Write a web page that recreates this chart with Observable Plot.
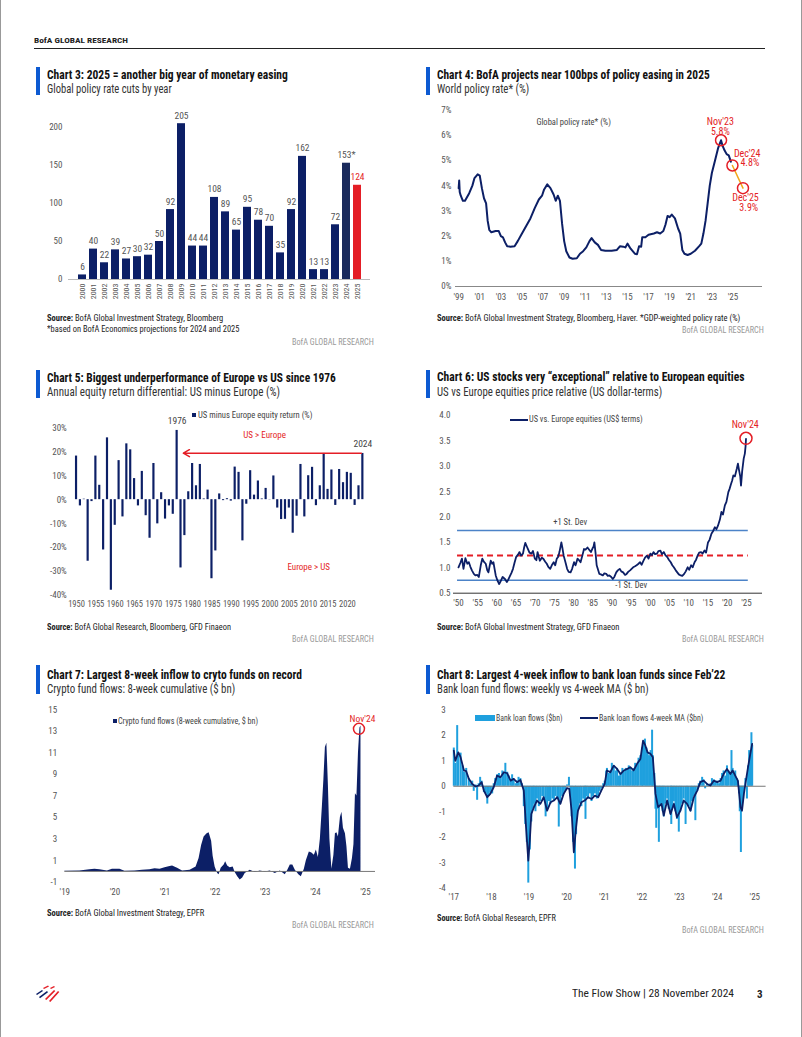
<!DOCTYPE html>
<html><head><meta charset="utf-8">
<script src="https://cdn.jsdelivr.net/npm/d3@7"></script>
<script src="https://cdn.jsdelivr.net/npm/@observablehq/plot@0.6"></script>
<style>
html,body{margin:0;padding:0;background:#fff;}
#page{position:relative;width:802px;height:1037px;overflow:hidden;background:#fff;font-family:'Liberation Sans Narrow','Roboto Condensed','Arial Narrow','DejaVu Sans Condensed',Roboto,sans-serif;}
.t{position:absolute;white-space:nowrap;line-height:1;}
.box{position:absolute;}
.chart{position:absolute;}
</style></head><body><div id="page"></div>
<script>
// ---------------- DATA ----------------
// Chart 3
const c3Years = ["2000","2001","2002","2003","2004","2005","2006","2007","2008","2009","2010","2011","2012","2013","2014","2015","2016","2017","2018","2019","2020","2021","2022","2023","2024","2025"];
const c3Cuts = [6,40,22,39,27,30,32,50,92,205,44,44,108,89,65,95,78,70,35,92,162,13,13,72,153,124];
const c3Labels = ["6","40","22","39","27","30","32","50","92","205","44","44","108","89","65","95","78","70","35","92","162","13","13","72","153*","124"];
// Chart 4
const c4Rate = [[1999.0,3.9],[1999.05,4.2],[1999.1,3.75],[1999.2,3.6],[1999.4,3.4],[1999.6,3.4],[1999.8,3.55],[2000.0,3.7],[2000.3,4.0],[2000.5,4.3],[2000.8,4.45],[2001.0,4.4],[2001.2,3.9],[2001.4,3.5],[2001.6,3.3],[2001.75,2.6],[2001.9,2.25],[2002.1,2.15],[2002.5,2.2],[2002.8,2.2],[2003.0,2.0],[2003.2,1.95],[2003.4,1.75],[2003.6,1.6],[2003.9,1.58],[2004.3,1.6],[2004.6,1.8],[2005.0,2.1],[2005.4,2.4],[2005.8,2.7],[2006.2,3.1],[2006.6,3.45],[2006.9,3.6],[2007.1,3.85],[2007.4,4.05],[2007.7,3.9],[2008.0,3.65],[2008.2,3.4],[2008.4,3.6],[2008.6,3.4],[2008.8,2.5],[2009.0,1.8],[2009.2,1.4],[2009.5,1.15],[2009.8,1.1],[2010.2,1.12],[2010.5,1.3],[2010.8,1.4],[2011.1,1.55],[2011.4,1.8],[2011.6,1.92],[2011.9,1.75],[2012.2,1.65],[2012.5,1.45],[2012.9,1.42],[2013.5,1.42],[2014.0,1.45],[2014.3,1.6],[2014.6,1.58],[2014.8,1.55],[2015.0,1.7],[2015.3,1.5],[2015.7,1.3],[2015.9,1.28],[2016.1,1.6],[2016.3,1.58],[2016.4,1.95],[2016.7,1.95],[2017.0,2.05],[2017.5,2.1],[2017.8,2.15],[2018.1,2.1],[2018.4,2.2],[2018.6,2.45],[2018.8,2.8],[2019.0,2.75],[2019.2,2.85],[2019.5,2.7],[2019.8,2.3],[2020.0,2.1],[2020.2,1.45],[2020.4,1.3],[2020.7,1.25],[2021.0,1.3],[2021.4,1.42],[2021.8,1.6],[2022.0,1.7],[2022.2,2.1],[2022.4,2.6],[2022.6,3.3],[2022.8,4.0],[2023.0,4.5],[2023.3,5.0],[2023.6,5.5],[2023.87,5.8],[2024.0,5.6],[2024.2,5.4],[2024.4,5.25],[2024.6,5.2],[2024.8,4.95]];
const c4Proj = [[2024.95,4.8],[2025.95,3.9]];
const c4Marks = [[2023.87,5.8],[2024.95,4.8],[2025.95,3.9]];
// Chart 5
const c5Years = d3.range(1950, 2025);
const c5Diff = [18.2,-2.6,0.2,-25.7,-0.8,18.2,6.0,-21.0,25.8,-37.8,-10.7,16.3,-7.2,23.3,20.8,8.8,-2.6,11.8,-6.7,-16.1,15.1,-10.1,2.9,-8.1,-2.6,-6.1,28.9,-28.5,-15.0,3.3,15.1,5.8,14.7,0.3,4.0,-33.0,-21.4,2.4,-0.4,0.4,-0.6,13.6,11.4,-17.2,-1.9,12.1,1.9,7.8,0.3,4.7,-0.1,9.9,-3.5,-8.3,-8.2,-3.5,-14.0,-6.9,14.7,-7.2,10.0,13.5,-2.5,5.8,19.3,4.3,12.4,-2.4,12.6,7.1,11.4,11.0,-2.4,5.8,19.3];
// Chart 6
const c6Rel = [[1950.0,1.01],[1950.5,1.10],[1950.9,1.18],[1951.3,0.98],[1951.8,1.19],[1952.3,1.08],[1952.7,1.11],[1953.1,1.02],[1953.5,0.95],[1954.0,0.88],[1954.4,0.85],[1954.9,0.86],[1955.3,0.82],[1955.8,1.05],[1956.2,1.18],[1956.6,1.12],[1957.1,1.08],[1957.5,0.95],[1957.8,0.91],[1958.1,1.03],[1958.4,1.14],[1958.8,1.08],[1959.1,1.11],[1959.4,0.98],[1959.7,0.85],[1960.1,0.76],[1960.6,0.68],[1961.0,0.74],[1961.5,0.82],[1962.1,0.78],[1962.6,0.72],[1963.0,0.77],[1963.3,0.82],[1963.8,0.90],[1964.2,0.98],[1964.6,1.10],[1965.0,1.21],[1965.5,1.26],[1965.9,1.31],[1966.3,1.24],[1966.8,1.28],[1967.1,1.40],[1967.4,1.49],[1967.8,1.42],[1968.1,1.37],[1968.5,1.30],[1969.0,1.28],[1969.4,1.33],[1969.9,1.18],[1970.3,1.15],[1970.6,1.31],[1970.9,1.22],[1971.2,1.14],[1971.7,1.20],[1972.1,1.18],[1972.6,1.12],[1973.0,1.08],[1973.4,1.02],[1973.9,0.98],[1974.3,1.05],[1974.8,1.11],[1975.2,1.05],[1975.6,1.18],[1976.0,1.22],[1976.3,1.31],[1976.8,1.50],[1977.1,1.38],[1977.4,1.24],[1977.9,1.10],[1978.3,0.98],[1978.7,0.92],[1979.2,0.91],[1979.6,0.98],[1980.1,1.11],[1980.5,1.05],[1981.0,1.18],[1981.4,1.15],[1981.8,1.11],[1982.3,1.25],[1982.7,1.37],[1983.1,1.36],[1983.6,1.40],[1984.0,1.36],[1984.5,1.31],[1984.9,1.38],[1985.2,1.42],[1985.4,1.50],[1985.7,1.30],[1986.0,1.05],[1986.4,0.95],[1986.7,0.88],[1987.1,0.87],[1987.6,0.85],[1988.0,0.89],[1988.5,0.88],[1988.9,0.84],[1989.3,0.85],[1989.8,0.82],[1990.2,0.78],[1990.6,0.82],[1991.1,0.91],[1991.5,0.95],[1992.0,0.98],[1992.4,0.93],[1992.9,0.91],[1993.4,0.86],[1993.8,0.88],[1994.2,0.92],[1994.7,0.95],[1995.1,0.98],[1995.5,1.01],[1996.0,1.03],[1996.4,1.05],[1996.9,1.08],[1997.3,1.11],[1997.7,1.06],[1998.2,1.14],[1998.6,1.20],[1999.1,1.24],[1999.5,1.18],[2000.0,1.28],[2000.4,1.25],[2000.8,1.31],[2001.2,1.27],[2001.7,1.28],[2002.1,1.33],[2002.6,1.34],[2003.0,1.27],[2003.5,1.31],[2003.9,1.25],[2004.4,1.21],[2004.8,1.16],[2005.3,1.11],[2005.7,1.05],[2006.1,1.01],[2006.6,0.95],[2007.0,0.91],[2007.4,0.87],[2007.9,0.85],[2008.3,0.84],[2008.8,0.88],[2009.2,0.93],[2009.7,1.01],[2010.1,0.96],[2010.6,1.05],[2011.0,1.01],[2011.5,1.11],[2011.9,1.16],[2012.3,1.24],[2012.7,1.30],[2013.2,1.31],[2013.6,1.28],[2014.1,1.34],[2014.5,1.30],[2015.0,1.50],[2015.4,1.55],[2015.9,1.67],[2016.3,1.72],[2016.8,1.80],[2017.2,1.76],[2017.6,1.83],[2018.1,1.95],[2018.5,2.10],[2018.9,2.05],[2019.4,2.23],[2019.8,2.30],[2020.3,2.49],[2020.6,2.55],[2021.0,2.65],[2021.3,2.72],[2021.6,2.82],[2022.0,2.80],[2022.5,2.95],[2022.8,3.05],[2023.1,2.92],[2023.4,2.80],[2023.6,2.62],[2023.9,2.90],[2024.3,3.15],[2024.6,3.25],[2024.8,3.40],[2024.9,3.54]];
const c6Bands = [["+1 St. Dev",1.735],["mean",1.243],["-1 St. Dev",0.756]];
// Chart 7
const c7Flows = [[2019.0,0.02],[2019.3,0.05],[2019.5,0.15],[2019.6,0.2],[2019.7,0.15],[2019.85,0.05],[2019.95,0.2],[2020.1,0.2],[2020.2,0.02],[2020.4,0.05],[2020.55,0.12],[2020.7,0.15],[2020.8,0.25],[2020.9,0.2],[2021.0,0.35],[2021.1,0.45],[2021.15,0.5],[2021.25,0.3],[2021.35,0.05],[2021.5,0.1],[2021.62,0.4],[2021.68,1.2],[2021.73,2.4],[2021.78,3.2],[2021.84,3.5],[2021.88,3.6],[2021.93,2.8],[2021.96,1.4],[2022.0,0.4],[2022.05,-0.2],[2022.08,-0.3],[2022.12,0.3],[2022.18,0.6],[2022.21,0.9],[2022.25,0.5],[2022.3,0.35],[2022.36,0.4],[2022.4,-0.1],[2022.45,-0.5],[2022.5,-0.8],[2022.55,-0.6],[2022.6,-0.2],[2022.7,0.1],[2022.8,-0.1],[2022.9,0.05],[2023.0,-0.05],[2023.1,0.05],[2023.2,-0.2],[2023.3,0.05],[2023.4,-0.3],[2023.45,0.1],[2023.5,0.6],[2023.55,0.6],[2023.6,0.1],[2023.67,-0.3],[2023.72,-0.5],[2023.78,0.2],[2023.82,1.0],[2023.88,1.8],[2023.93,1.7],[2023.98,1.5],[2024.02,2.0],[2024.06,1.3],[2024.1,3.0],[2024.14,6.0],[2024.17,8.5],[2024.2,11.5],[2024.23,11.9],[2024.26,8.0],[2024.29,3.0],[2024.33,0.2],[2024.37,1.5],[2024.4,3.5],[2024.43,3.6],[2024.46,3.2],[2024.5,5.0],[2024.53,5.5],[2024.56,4.0],[2024.6,3.5],[2024.63,2.3],[2024.66,0.3],[2024.7,0.2],[2024.74,1.2],[2024.77,2.5],[2024.8,7.2],[2024.83,7.0],[2024.86,11.0],[2024.89,13.3],[2024.91,13.5]];
// Chart 8
const c8Weekly = [[2017.0,1.5],[2017.04,0.9],[2017.09,2.38],[2017.12,1.2],[2017.18,1.3],[2017.23,0.8],[2017.27,0.55],[2017.33,0.7],[2017.4,0.3],[2017.45,0.1],[2017.49,0.2],[2017.53,-0.2],[2017.58,0.05],[2017.62,-0.55],[2017.66,0.1],[2017.7,0.35],[2017.74,0.2],[2017.8,-0.25],[2017.85,-0.3],[2017.89,-0.7],[2017.93,-0.4],[2017.97,-0.25],[2018.02,-0.3],[2018.06,0.1],[2018.1,0.3],[2018.15,0.45],[2018.2,0.5],[2018.24,0.3],[2018.29,0.6],[2018.33,0.5],[2018.37,0.9],[2018.42,0.55],[2018.46,0.4],[2018.51,0.2],[2018.55,0.45],[2018.59,0.3],[2018.64,0.1],[2018.68,0.2],[2018.72,0.35],[2018.77,0.3],[2018.81,0.1],[2018.86,-0.8],[2018.9,-1.5],[2018.94,-2.2],[2018.98,-3.8],[2019.02,-2.5],[2019.06,-1.4],[2019.1,-0.9],[2019.13,-0.7],[2019.17,-1.0],[2019.21,-0.5],[2019.26,-0.8],[2019.3,-0.6],[2019.35,-0.4],[2019.39,-0.5],[2019.44,-1.2],[2019.48,-0.9],[2019.53,-0.6],[2019.57,-0.7],[2019.62,-0.5],[2019.66,-0.6],[2019.7,-0.4],[2019.75,-0.5],[2019.79,-1.6],[2019.83,-0.7],[2019.88,-0.4],[2019.92,-0.3],[2019.96,-0.2],[2020.01,0.05],[2020.06,0.35],[2020.1,-0.4],[2020.13,-1.2],[2020.17,-2.2],[2020.22,-3.25],[2020.25,-1.9],[2020.3,-1.0],[2020.35,-0.7],[2020.39,-0.8],[2020.44,-0.5],[2020.48,-0.6],[2020.5,-1.3],[2020.53,-0.4],[2020.57,-0.5],[2020.62,-0.3],[2020.66,-0.6],[2020.7,-0.4],[2020.75,-0.3],[2020.8,-0.5],[2020.84,-0.4],[2020.88,-0.2],[2020.92,-0.1],[2020.97,0.1],[2021.01,0.2],[2021.05,0.6],[2021.07,0.7],[2021.12,0.5],[2021.16,0.6],[2021.2,0.9],[2021.25,0.8],[2021.3,0.6],[2021.34,0.7],[2021.39,0.4],[2021.43,0.5],[2021.48,0.7],[2021.52,0.6],[2021.57,0.7],[2021.61,0.65],[2021.65,0.8],[2021.69,0.7],[2021.74,0.6],[2021.78,0.7],[2021.82,0.9],[2021.87,0.85],[2021.91,1.1],[2021.96,1.2],[2022.0,1.5],[2022.03,1.7],[2022.08,1.85],[2022.12,1.5],[2022.15,1.3],[2022.19,1.2],[2022.23,1.4],[2022.27,2.2],[2022.29,1.2],[2022.33,0.5],[2022.36,-0.9],[2022.38,-1.65],[2022.41,-0.9],[2022.45,-2.2],[2022.48,-0.8],[2022.52,-0.7],[2022.55,-1.0],[2022.58,-1.2],[2022.62,-0.7],[2022.67,-0.5],[2022.71,-0.9],[2022.76,-1.1],[2022.78,-1.5],[2022.81,-0.8],[2022.85,-0.6],[2022.89,-1.0],[2022.93,-1.3],[2022.98,-1.8],[2023.02,-1.0],[2023.06,-0.7],[2023.11,-0.5],[2023.16,-1.5],[2023.2,-0.7],[2023.24,-0.8],[2023.29,-1.0],[2023.33,-0.6],[2023.38,-0.4],[2023.42,-1.35],[2023.47,-0.2],[2023.51,0.1],[2023.55,0.2],[2023.6,0.35],[2023.64,0.25],[2023.68,-0.1],[2023.73,0.1],[2023.77,0.05],[2023.82,0.1],[2023.86,0.3],[2023.91,0.25],[2023.95,0.15],[2024.0,0.2],[2024.05,0.1],[2024.09,0.3],[2024.13,0.5],[2024.17,0.6],[2024.22,0.4],[2024.26,0.8],[2024.3,0.6],[2024.35,0.5],[2024.38,1.4],[2024.41,0.7],[2024.45,0.5],[2024.48,0.6],[2024.52,0.3],[2024.55,0.2],[2024.58,-0.3],[2024.6,-1.0],[2024.63,-2.6],[2024.66,-0.9],[2024.69,-0.5],[2024.71,-0.2],[2024.75,0.3],[2024.79,-0.5],[2024.82,0.8],[2024.85,1.4],[2024.88,1.2],[2024.91,2.1],[2024.93,1.6]];
const c8MA = [[2017.0,1.4],[2017.04,1.0],[2017.12,1.33],[2017.18,1.14],[2017.27,0.62],[2017.33,0.59],[2017.4,0.29],[2017.49,0.09],[2017.58,-0.01],[2017.66,0.03],[2017.74,0.16],[2017.8,-0.17],[2017.89,-0.43],[2017.97,-0.3],[2018.06,-0.04],[2018.15,0.42],[2018.24,0.35],[2018.33,0.55],[2018.42,0.51],[2018.51,0.22],[2018.59,0.29],[2018.68,0.16],[2018.77,0.25],[2018.86,-0.17],[2018.92,-1.61],[2018.98,-2.92],[2019.02,-2.13],[2019.06,-1.09],[2019.13,-0.82],[2019.21,-0.56],[2019.3,-0.69],[2019.39,-0.43],[2019.48,-0.96],[2019.57,-0.63],[2019.66,-0.56],[2019.75,-0.43],[2019.83,-0.69],[2019.92,-0.3],[2020.01,-0.07],[2020.07,-0.1],[2020.13,-0.96],[2020.19,-2.59],[2020.25,-1.61],[2020.3,-0.96],[2020.39,-0.63],[2020.48,-0.56],[2020.57,-0.43],[2020.66,-0.5],[2020.75,-0.37],[2020.84,-0.43],[2020.92,-0.17],[2021.01,0.09],[2021.07,0.62],[2021.16,0.55],[2021.25,0.81],[2021.34,0.68],[2021.43,0.48],[2021.52,0.62],[2021.61,0.68],[2021.69,0.75],[2021.78,0.62],[2021.87,0.88],[2021.96,1.07],[2022.03,1.79],[2022.09,1.6],[2022.15,1.33],[2022.23,1.27],[2022.29,1.14],[2022.36,-0.3],[2022.43,-0.82],[2022.52,-0.69],[2022.58,-1.15],[2022.67,-0.56],[2022.76,-1.09],[2022.85,-0.69],[2022.93,-1.22],[2023.02,-0.96],[2023.11,-0.56],[2023.2,-0.69],[2023.29,-0.96],[2023.38,-0.43],[2023.47,-0.17],[2023.55,0.16],[2023.64,0.22],[2023.73,0.09],[2023.82,0.03],[2023.91,0.22],[2024.0,0.16],[2024.09,0.22],[2024.17,0.48],[2024.26,0.68],[2024.35,0.48],[2024.41,0.62],[2024.48,0.42],[2024.55,0.22],[2024.62,-0.82],[2024.66,-0.96],[2024.71,-0.3],[2024.75,0.09],[2024.82,0.75],[2024.88,1.27],[2024.93,1.66]];

// ---------------- STYLE ----------------
const FONT = "'Liberation Sans Narrow','Roboto Condensed','Arial Narrow','DejaVu Sans Condensed',Roboto,sans-serif";
const NAVY = "#0c1f66", NAVY2 = "#1a2a5c", RED = "#e41e26", BAR = "#0d5ad2", LBLUE = "#1fa0de", SDBLUE = "#4c83c8", ORANGE = "#f2a71b", GRAY = "#555";
const page = document.getElementById("page");
const yr = d => "'" + String(d).slice(2);
const intf = d => String(d);

function box(x, y, w, h, c) {
  const d = document.createElement("div"); d.className = "box";
  Object.assign(d.style, {left: x + "px", top: y + "px", width: w + "px", height: h + "px", background: c});
  page.appendChild(d); return d;
}
function txt(x, y, html, o = {}) {
  const d = document.createElement("div"); d.className = "t";
  const fs = o.size || 10;
  d.style.fontSize = fs + "px";
  d.style.top = (y - fs / 2) + "px";
  d.style.color = o.color || "#222";
  if (o.bold) d.style.fontWeight = "bold";
  if (o.ls) d.style.letterSpacing = o.ls + "px";
  d.innerHTML = html;
  page.appendChild(d);
  const w0 = d.offsetWidth;
  let w = w0, sx = 1;
  if (o.w) { sx = o.w / w0; w = o.w; }
  const left = o.align === "right" ? x - w : o.align === "center" ? x - w / 2 : x;
  d.style.left = left + "px";
  if (sx !== 1) { d.style.transformOrigin = "0 50%"; d.style.transform = `scaleX(${sx})`; }
  return d;
}
function place(svg, x, y) {
  const d = document.createElement("div"); d.className = "chart";
  d.style.left = x + "px"; d.style.top = y + "px";
  d.appendChild(svg); page.appendChild(d);
}
const base = {style: {fontFamily: FONT, fontSize: "9px", color: GRAY, background: "transparent", overflow: "visible"}};

// ---------------- CHART 3 ----------------
const c3 = c3Years.map((y, i) => ({year: y, v: c3Cuts[i], label: c3Labels[i],
  fill: y === "2025" ? RED : y === "2024" ? NAVY2 : NAVY, lc: y === "2025" ? RED : GRAY}));
place(Plot.plot({...base, width: 345, height: 210, marginLeft: 32, marginRight: 11, marginTop: 27, marginBottom: 31,
  x: {type: "band", domain: c3Years, padding: 0.3, label: null},
  y: {domain: [0, 200], label: null},
  color: {type: "identity"},
  marks: [
    Plot.ruleY([0], {stroke: "#bbb"}),
    Plot.barY(c3, {x: "year", y: "v", fill: "fill"}),
    Plot.text(c3, {x: "year", y: "v", text: "label", dy: -8, fill: "lc", fontSize: 9.5}),
    Plot.axisY({ticks: [0, 50, 100, 150, 200], tickFormat: intf, tickSize: 0, tickPadding: 6, label: null, fontSize: 9}),
    Plot.axisX({tickRotate: -90, tickSize: 0, tickPadding: 4, label: null, fontSize: 8})
  ]}), 36, 100);

// ---------------- CHART 4 ----------------
const c4 = c4Rate.map(([t, v]) => ({t, v}));
const c4p = c4Proj.map(([t, v]) => ({t, v}));
const c4m = c4Marks.map(([t, v]) => ({t, v}));
const c4Text = [
  {t: 2023.8, v: 6.52, s: "Nov'23"}, {t: 2023.8, v: 6.13, s: "5.8%"},
  {t: 2026.35, v: 5.28, s: "Dec'24"}, {t: 2026.6, v: 4.91, s: "4.8%"},
  {t: 2026.19, v: 3.53, s: "Dec'25"}, {t: 2026.5, v: 3.13, s: "3.9%"}
];
place(Plot.plot({...base, width: 345, height: 210, marginLeft: 29, marginRight: 9, marginTop: 9.5, marginBottom: 24,
  x: {domain: [1998.7, 2027.8], label: null},
  y: {domain: [0, 7], label: null},
  marks: [
    Plot.ruleY([0], {stroke: "#888"}),
    Plot.line(c4, {x: "t", y: "v", stroke: NAVY, strokeWidth: 2}),
    Plot.line(c4p, {x: "t", y: "v", stroke: ORANGE, strokeWidth: 1.5}),
    Plot.dot(c4m, {x: "t", y: "v", r: 5.5, stroke: RED, strokeWidth: 1.5}),
    Plot.text(c4Text, {x: "t", y: "v", text: "s", fill: RED, fontSize: 10}),
    Plot.text([{t: 2009.9, v: 6.52, s: "Global policy rate* (%)"}], {x: "t", y: "v", text: "s", fill: "#444", fontSize: 8.5}),
    Plot.axisY({ticks: d3.range(0, 8), tickFormat: d => d + "%", tickSize: 0, tickPadding: 4, label: null, fontSize: 9}),
    Plot.axisX({ticks: d3.range(1999, 2026, 2), tickFormat: yr, tickSize: 0, tickPadding: 7, label: null, fontSize: 9})
  ]}), 426, 100);

// ---------------- CHART 5 ----------------
const c5 = c5Years.map((y, i) => ({year: y, v: c5Diff[i]}));
place(Plot.plot({...base, width: 345, height: 210, marginLeft: 32.3, marginRight: 10.9, marginTop: 22.3, marginBottom: 20,
  x: {domain: [1948, 2026], label: null},
  y: {domain: [-40, 30], label: null},
  marks: [
    Plot.rectY(c5, {x1: d => d.year - 0.28, x2: d => d.year + 0.28, y1: d => 0, y2: "v", fill: NAVY}),
    Plot.arrow([{a: 2023.6, b: 1977.6, v: 19.4}], {x1: "a", x2: "b", y1: "v", y2: "v", stroke: RED, strokeWidth: 1.5, headLength: 7}),
    Plot.text([{x: 1976, v: 28.9, s: "1976"}, {x: 2024, v: 19.3, s: "2024"}], {x: "x", y: "v", text: "s", dy: -9, fill: "#444", fontSize: 9.5}),
    Plot.text([{x: 1998.6, v: 26.8, s: "US > Europe"}, {x: 2010.0, v: -28.2, s: "Europe > US"}], {x: "x", y: "v", text: "s", fill: RED, fontSize: 9}),
    Plot.axisY({ticks: d3.range(-40, 31, 10), tickFormat: d => d + "%", tickSize: 0, tickPadding: 2, label: null, fontSize: 9}),
    Plot.axisX({ticks: d3.range(1950, 2021, 5), tickFormat: intf, tickSize: 0, tickPadding: 5, label: null, fontSize: 8.5})
  ]}), 36, 405);

// ---------------- CHART 6 ----------------
const c6 = c6Rel.map(([t, v]) => ({t, v}));
const c6b = c6Bands.map(([s, v]) => ({s, v, a: 1949.75, b: 2025.5}));
place(Plot.plot({...base, width: 345, height: 210, marginLeft: 27, marginRight: 9, marginTop: 10, marginBottom: 22.3,
  x: {domain: [1948.7, 2029.2], label: null},
  y: {domain: [0.5, 4.0], label: null},
  marks: [
    Plot.ruleY([0.5], {stroke: "#333"}),
    Plot.ruleY(c6b.filter(d => d.s !== "mean"), {y: "v", x1: "a", x2: "b", stroke: SDBLUE, strokeWidth: 1.5}),
    Plot.ruleY(c6b.filter(d => d.s === "mean"), {y: "v", x1: "a", x2: "b", stroke: RED, strokeWidth: 1.8, strokeDasharray: "6,4"}),
    Plot.line(c6, {x: "t", y: "v", stroke: NAVY, strokeWidth: 1.8}),
    Plot.dot([{t: 2024.9, v: 3.55}], {x: "t", y: "v", r: 6, stroke: RED, strokeWidth: 1.5}),
    Plot.text([{t: 2024.7, v: 3.82, s: "Nov'24"}], {x: "t", y: "v", text: "s", fill: RED, fontSize: 10}),
    Plot.text([{t: 1979.1, v: 1.89, s: "+1 St. Dev"}, {t: 1995.0, v: 0.65, s: "-1 St. Dev"}], {x: "t", y: "v", text: "s", fill: "#444", fontSize: 8.5}),
    Plot.axisY({ticks: d3.range(0.5, 4.01, 0.5), tickFormat: d3.format(".1f"), tickSize: 0, tickPadding: 3, label: null, fontSize: 9}),
    Plot.axisX({ticks: d3.range(1950, 2026, 5), tickFormat: yr, tickSize: 0, tickPadding: 6, label: null, fontSize: 9})
  ]}), 426, 405);

// ---------------- CHART 7 ----------------
const c7 = c7Flows.map(([t, v]) => ({t, v}));
place(Plot.plot({...base, width: 345, height: 205, marginLeft: 28.3, marginRight: 6, marginTop: 9.3, marginBottom: 23.3,
  x: {domain: [2019, 2025.2], label: null},
  y: {domain: [-1, 15], label: null},
  marks: [
    Plot.areaY(c7, {x: "t", y: "v", fill: NAVY}),
    Plot.ruleY([0], {stroke: "#777"}),
    Plot.dot([{t: 2024.87, v: 13.23}], {x: "t", y: "v", r: 5.5, stroke: RED, strokeWidth: 1.5}),
    Plot.text([{t: 2024.94, v: 14.18, s: "Nov'24"}], {x: "t", y: "v", text: "s", fill: RED, fontSize: 9.5}),
    Plot.axisY({ticks: d3.range(-1, 16, 2), tickFormat: intf, tickSize: 0, tickPadding: 7.6, label: null, fontSize: 9}),
    Plot.axisX({ticks: d3.range(2019, 2026), tickFormat: yr, tickSize: 0, tickPadding: 6, label: null, fontSize: 9})
  ]}), 36, 700);

// ---------------- CHART 8 ----------------
const c8w = c8Weekly.map(([t, v]) => ({t, v}));
const c8m = c8MA.map(([t, v]) => ({t, v}));
place(Plot.plot({...base, width: 345, height: 205, marginLeft: 27.3, marginRight: 5.4, marginTop: 9.3, marginBottom: 17.3,
  x: {domain: [2017, 2025.3], label: null},
  y: {domain: [-4, 3], label: null},
  marks: [
    Plot.ruleX(c8w, {x: "t", y1: d => 0, y2: "v", stroke: LBLUE, strokeWidth: 2}),
    Plot.ruleY([0], {stroke: "#777"}),
    Plot.line(c8m, {x: "t", y: "v", stroke: NAVY, strokeWidth: 1.8}),
    Plot.axisY({ticks: d3.range(-4, 4), tickFormat: intf, tickSize: 0, tickPadding: 8, label: null, fontSize: 9}),
    Plot.axisX({ticks: d3.range(2017, 2026), tickFormat: yr, tickSize: 0, tickPadding: 5, label: null, fontSize: 9})
  ]}), 426, 700);

// ---------------- PAGE TEXT ----------------
box(0, 0, 1, 1037, "#999"); box(801, 0, 1, 1037, "#999");
txt(34, 41, "BofA GLOBAL RESEARCH", {size: 8, bold: true, color: "#222", w: 94});
box(34, 47.5, 731, 1.5, "#222");

const panels = [
  {x: 36, ty: 75, sy: 88.5, bar: [66.7, 28], title: "Chart 3: 2025 = another big year of monetary easing", tw: 241, sub: "Global policy rate cuts by year", sw: 125},
  {x: 426, ty: 75, sy: 88.5, bar: [66.7, 28], title: "Chart 4: BofA projects near 100bps of policy easing in 2025", tw: 273, sub: "World policy rate* (%)", sw: 92},
  {x: 36, ty: 378.3, sy: 391.7, bar: [370, 28], title: "Chart 5: Biggest underperformance of Europe vs US since 1976", tw: 289, sub: "Annual equity return differential: US minus Europe (%)", sw: 233},
  {x: 426, ty: 377.7, sy: 391.7, bar: [370, 28], title: "Chart 6: US stocks very “exceptional” relative to European equities", tw: 307, sub: "US vs Europe equities price relative (US dollar-terms)", sw: 225},
  {x: 36, ty: 675, sy: 689.3, bar: [665, 29], title: "Chart 7: Largest 8-week inflow to cryto funds on record", tw: 255, sub: "Crypto fund flows: 8-week cumulative ($ bn)", sw: 188},
  {x: 426, ty: 675, sy: 689.3, bar: [665, 29], title: "Chart 8: Largest 4-week inflow to bank loan funds since Feb’22", tw: 288, sub: "Bank loan fund flows: weekly vs 4-week MA ($ bn)", sw: 212}
];
for (const p of panels) {
  box(p.x, p.bar[0], 4, p.bar[1], BAR);
  txt(p.x + 11, p.ty, p.title, {size: 12.5, bold: true, color: "#111", w: p.tw});
  txt(p.x + 11, p.sy, p.sub, {size: 12, color: "#333", w: p.sw});
}
const src = (s) => "<b>Source:</b> " + s;
txt(47, 318.3, src("BofA Global Investment Strategy, Bloomberg"), {size: 8.5, w: 176});
txt(47, 329.3, "*based on BofA Economics projections for 2024 and 2025", {size: 8.5, w: 192});
txt(374, 342.7, "BofA GLOBAL RESEARCH", {size: 8.5, color: "#999", align: "right", w: 82});
txt(437, 318.3, src("BofA Global Investment Strategy, Bloomberg, Haver. *GDP-weighted policy rate (%)"), {size: 8.5, w: 303});
txt(764, 330.7, "BofA GLOBAL RESEARCH", {size: 8.5, color: "#999", align: "right", w: 82});
txt(47, 627.3, src("BofA Global Research, Bloomberg, GFD Finaeon"), {size: 8.5, w: 184});
txt(374, 639, "BofA GLOBAL RESEARCH", {size: 8.5, color: "#999", align: "right", w: 82});
txt(437, 627.3, src("BofA Global Investment Strategy, GFD Finaeon"), {size: 8.5, w: 182});
txt(764, 639, "BofA GLOBAL RESEARCH", {size: 8.5, color: "#999", align: "right", w: 82});
txt(47, 913.3, src("BofA Global Investment Strategy, EPFR"), {size: 8.5, w: 157});
txt(374, 925, "BofA GLOBAL RESEARCH", {size: 8.5, color: "#999", align: "right", w: 82});
txt(437, 918.3, src("BofA Global Research, EPFR"), {size: 8.5, w: 119});
txt(764, 930.7, "BofA GLOBAL RESEARCH", {size: 8.5, color: "#999", align: "right", w: 82});

// legends
box(192.3, 412.5, 3.5, 4.5, NAVY);
txt(197.7, 415.7, "US minus Europe equity return (%)", {size: 8.5, color: "#444", w: 115});
box(510, 418.7, 18, 2, NAVY);
txt(528.5, 419.7, "US vs. Europe equities (US$ terms)", {size: 8.5, color: "#444", w: 114});
box(113, 718.5, 3.5, 4.5, NAVY);
txt(117.7, 721, "Crypto fund flows (8-week cumulative, $ bn)", {size: 8.5, color: "#444", w: 140.6});
box(475, 715, 20, 6, LBLUE);
txt(495.7, 718, "Bank loan flows ($bn)", {size: 8.5, color: "#444", w: 66.6});
box(580, 716.5, 18.3, 2, NAVY);
txt(599, 718, "Bank loan flows 4-week MA ($bn)", {size: 8.5, color: "#444", w: 104.7});

// footer
txt(734, 994, "The Flow Show | 28 November 2024", {size: 10.5, color: "#222", align: "right", w: 162});
txt(757, 994, "3", {size: 11, bold: true, color: "#222"});
const logo = document.createElementNS("http://www.w3.org/2000/svg", "svg");
logo.setAttribute("width", "30"); logo.setAttribute("height", "18");
logo.style.position = "absolute"; logo.style.left = "34px"; logo.style.top = "985px";
logo.innerHTML = `
<path d="M2 9 L8 5 L9 6 L3 10Z" fill="#0c1f66"/>
<path d="M5 12 L13 6 L14 7.2 L6 13.2Z" fill="#0c1f66"/>
<path d="M9 3 L14 0.5 L15 1.5 L10 4Z" fill="#e41e26"/>
<path d="M11 14 L20 5 L21.3 6 L12.3 15Z" fill="#e41e26"/>
<path d="M15 16 L24 6 L25.3 7 L16.3 17Z" fill="#e41e26"/>
<path d="M16 3 L20 1 L21 2 L17 4Z" fill="#e41e26"/>`;
page.appendChild(logo);
</script>
</body></html>
